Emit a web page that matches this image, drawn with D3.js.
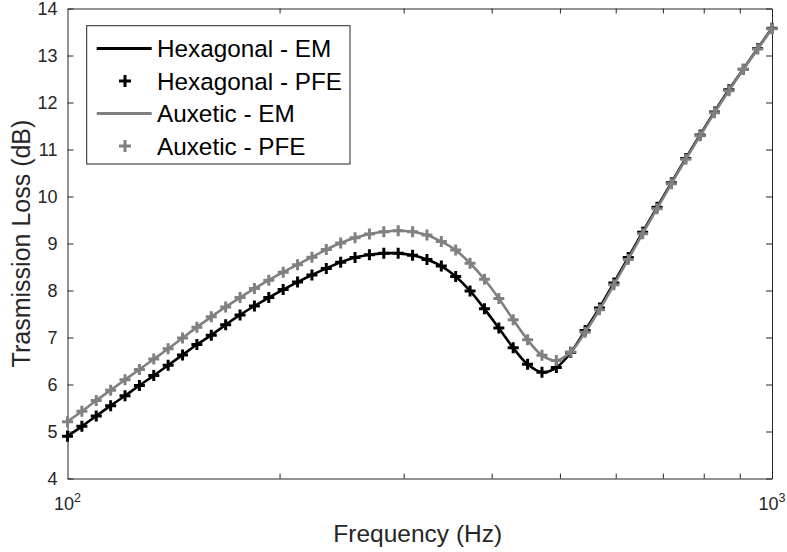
<!DOCTYPE html>
<html>
<head>
<meta charset="utf-8">
<script src="https://cdn.jsdelivr.net/npm/d3@7"></script>
<style>
  html, body { margin: 0; padding: 0; background: #fff; }
  svg { display: block; font-family: "Liberation Sans", Arial, Helvetica, sans-serif; }
</style>
</head>
<body>
<svg id="chart" width="787" height="552"></svg>
<script>
// ---- data ----
const frequencies = [100, 104.81, 109.85, 115.14, 120.68, 126.49, 132.57, 138.95, 145.64, 152.64,
  159.99, 167.69, 175.76, 184.21, 193.08, 202.36, 212.10, 222.30, 233.00, 244.21,
  255.95, 268.27, 281.18, 294.71, 308.89, 323.75, 339.32, 355.64, 372.75, 390.69,
  409.49, 429.19, 449.84, 471.49, 494.17, 517.94, 542.86, 568.98, 596.35, 625.04,
  655.13, 686.65, 719.69, 754.31, 790.60, 828.64, 868.51, 910.30, 954.09, 1000];
const hexagonalTL = [4.90, 5.11, 5.33, 5.55, 5.76, 5.98, 6.19, 6.41, 6.63, 6.85,
  7.05, 7.27, 7.48, 7.67, 7.85, 8.02, 8.18, 8.33, 8.47, 8.60,
  8.70, 8.76, 8.79, 8.79, 8.75, 8.66, 8.52, 8.30, 7.99, 7.61,
  7.20, 6.78, 6.43, 6.26, 6.36, 6.68, 7.15, 7.63, 8.16, 8.70,
  9.24, 9.77, 10.29, 10.81, 11.31, 11.80, 12.27, 12.71, 13.15, 13.58];
const auxeticTL = [5.21, 5.43, 5.66, 5.88, 6.10, 6.32, 6.54, 6.76, 6.99, 7.22,
  7.44, 7.65, 7.85, 8.04, 8.22, 8.39, 8.55, 8.71, 8.87, 9.01,
  9.12, 9.20, 9.25, 9.27, 9.25, 9.18, 9.04, 8.86, 8.58, 8.24,
  7.83, 7.38, 6.95, 6.62, 6.51, 6.69, 7.11, 7.59, 8.12, 8.66,
  9.21, 9.74, 10.27, 10.79, 11.29, 11.78, 12.25, 12.70, 13.14, 13.57];
const yTicks = [4, 5, 6, 7, 8, 9, 10, 11, 12, 13, 14];
const xMajorTicks = [100, 1000];
const xMajorExponents = ["2", "3"];
const xMinorTicks = [200, 300, 400, 500, 600, 700, 800, 900];
const legendLabels = ["Hexagonal - EM", "Hexagonal - PFE", "Auxetic - EM", "Auxetic - PFE"];
const xLabel = "Frequency (Hz)";
const yLabel = "Trasmission Loss (dB)";

// ---- layout ----
const plot = { left: 67.5, right: 772, top: 8.5, bottom: 478.5 };
const axisColor = "#262626";
const black = "#000000", gray = "#808080";

const svg = d3.select("#chart");
const x = d3.scaleLog().domain([100, 1000]).range([plot.left, plot.right]);
const y = d3.scaleLinear().domain([4, 14]).range([plot.bottom, plot.top]);

svg.append("rect").attr("x", plot.left).attr("y", plot.top)
  .attr("width", plot.right - plot.left).attr("height", plot.bottom - plot.top)
  .attr("fill", "#fff");

// axes
function styleAxis(g) {
  g.selectAll(".domain").attr("stroke", axisColor).attr("stroke-width", 1);
  g.selectAll(".tick line").attr("stroke", axisColor).attr("stroke-width", 1);
  g.selectAll(".tick text").attr("fill", axisColor);
}
const gBottom = svg.append("g").attr("transform", `translate(0,${plot.bottom})`)
  .call(d3.axisBottom(x).tickValues(xMinorTicks).tickSize(-5).tickSizeOuter(0).tickFormat(""));
styleAxis(gBottom);
const gTop = svg.append("g").attr("transform", `translate(0,${plot.top})`)
  .call(d3.axisTop(x).tickValues(xMinorTicks).tickSize(-5).tickSizeOuter(0).tickFormat(""));
styleAxis(gTop);
const gLeft = svg.append("g").attr("transform", `translate(${plot.left},0)`)
  .call(d3.axisLeft(y).tickValues(yTicks).tickSize(-6).tickSizeOuter(0).tickPadding(10).tickFormat(d3.format("d")));
gLeft.selectAll(".tick text").attr("font-size", 18).attr("font-family", "Liberation Sans, Arial, sans-serif");
styleAxis(gLeft);
const gRight = svg.append("g").attr("transform", `translate(${plot.right},0)`)
  .call(d3.axisRight(y).tickValues(yTicks).tickSize(-6).tickSizeOuter(0).tickFormat(""));
styleAxis(gRight);

// x major labels with superscript
xMajorTicks.forEach((v, i) => {
  const t = svg.append("text").attr("x", x(v)).attr("y", 510)
    .attr("text-anchor", "middle").attr("fill", axisColor).attr("font-size", 18);
  t.append("tspan").text("10");
  t.append("tspan").attr("font-size", 12.5).attr("dy", -8).text(xMajorExponents[i]);
});

// axis labels
svg.append("text").attr("x", (plot.left + plot.right) / 2 - 2).attr("y", 542)
  .attr("text-anchor", "middle").attr("fill", axisColor).attr("font-size", 24.5).text(xLabel);
svg.append("text").attr("transform", `translate(30,${(plot.top + plot.bottom) / 2}) rotate(-90)`)
  .attr("text-anchor", "middle").attr("fill", axisColor).attr("font-size", 25).text(yLabel);

// series
const hexData = frequencies.map((f, i) => ({ f, v: hexagonalTL[i] }));
const auxData = frequencies.map((f, i) => ({ f, v: auxeticTL[i] }));
const line = d3.line().x(d => x(d.f)).y(d => y(d.v)).curve(d3.curveCatmullRom.alpha(0.5));
const plusPath = s => `M${-s},0H${s}M0,${-s}V${s}`;

const plotG = svg.append("g");
function drawSeries(data, color, lw) {
  plotG.append("path").datum(data).attr("d", line)
    .attr("fill", "none").attr("stroke", color).attr("stroke-width", lw)
    .attr("stroke-linejoin", "round");
  plotG.append("g").selectAll("path").data(data).join("path")
    .attr("transform", d => `translate(${x(d.f)},${y(d.v)})`)
    .attr("d", plusPath(5.5)).attr("stroke", color).attr("stroke-width", 3).attr("fill", "none");
}
drawSeries(hexData, black, 2.6);
drawSeries(auxData, gray, 2.6);

// legend
const lg = svg.append("g");
lg.append("rect").attr("x", 86.7).attr("y", 25.7).attr("width", 263.3).attr("height", 138.3)
  .attr("fill", "#fff").attr("stroke", axisColor).attr("stroke-width", 1);
const legendStyles = [
  { color: black, type: "line" }, { color: black, type: "marker" },
  { color: gray, type: "line" }, { color: gray, type: "marker" }];
legendLabels.forEach((lab, i) => {
  const cy = 48.5 + i * 32.5;
  const st = legendStyles[i];
  if (st.type === "line") {
    lg.append("line").attr("x1", 96.7).attr("x2", 151.7).attr("y1", cy).attr("y2", cy)
      .attr("stroke", st.color).attr("stroke-width", 3);
  } else {
    lg.append("path").attr("transform", `translate(125,${cy})`).attr("d", plusPath(6))
      .attr("stroke", st.color).attr("stroke-width", 3).attr("fill", "none");
  }
  lg.append("text").attr("x", 157).attr("y", cy).attr("dy", "0.35em")
    .attr("fill", "#000").attr("font-size", 24.3).text(lab);
});
</script>
</body>
</html>
